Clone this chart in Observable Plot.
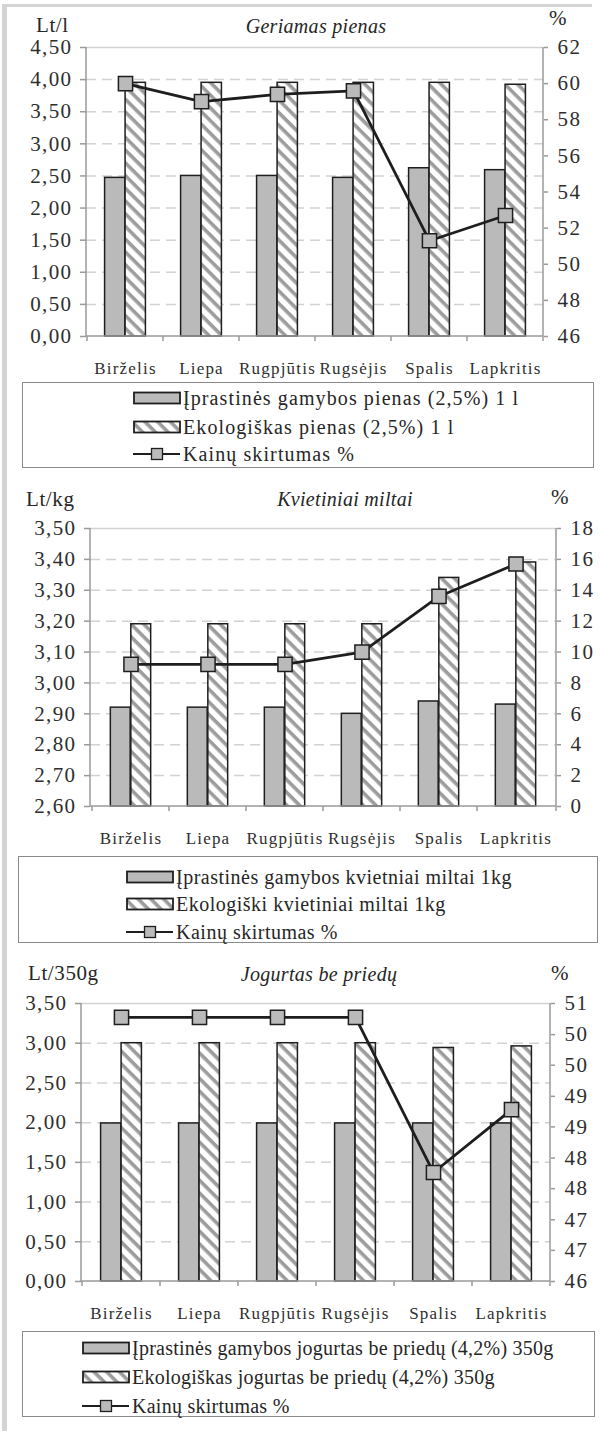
<!DOCTYPE html>
<html><head><meta charset="utf-8">
<script src="https://cdn.jsdelivr.net/npm/d3@7"></script>
<script src="https://cdn.jsdelivr.net/npm/@observablehq/plot@0.6"></script>
<style>
html,body{margin:0;padding:0;background:#fff;}
body{width:601px;height:1431px;position:relative;overflow:hidden;font-family:"Liberation Serif","DejaVu Serif",serif;color:#262626;}
.abs{position:absolute;white-space:nowrap;line-height:24px;height:24px;}
.frameL{position:absolute;left:2px;top:4px;width:5px;height:1427px;background:#d4d4d4;}
.frameT{position:absolute;left:2px;top:4px;width:590px;height:3px;background:#d4d4d4;}
.unit{font-size:21px;letter-spacing:0.6px;}
.title{font-size:20px;font-style:italic;letter-spacing:0.3px;transform:translateX(-50%);}
.legend{position:absolute;border:1.5px solid #8a8a8a;box-sizing:border-box;background:#fff;}
.lrow{position:absolute;display:flex;align-items:center;height:28px;font-size:20px;white-space:nowrap;}
.lrow svg{flex:none;margin-right:2px;}
.panel{position:absolute;left:0;}
.panel svg text{font-family:"Liberation Serif","DejaVu Serif",serif;}
.panel g[aria-label="y-axis tick label"] text{letter-spacing:1.4px;}
.panel g[aria-label="x-axis tick label"] text{letter-spacing:1.2px;}
</style>
</head><body>
<div class="frameL"></div><div class="frameT"></div>
<script>
// ---------- data ----------
const months = ["Birželis","Liepa","Rugpjūtis","Rugsėjis","Spalis","Lapkritis"];

const milkConv = [2.47, 2.50, 2.50, 2.47, 2.62, 2.59];
const milkEco  = [3.95, 3.95, 3.95, 3.95, 3.95, 3.92];
const milkDiff = [60.0, 59.0, 59.4, 59.6, 51.3, 52.7];
const milkLeftTicks  = [0, 0.5, 1, 1.5, 2, 2.5, 3, 3.5, 4, 4.5];
const milkRightTicks = [46, 48, 50, 52, 54, 56, 58, 60, 62];
const milkRightLabels = ["46","48","50","52","54","56","58","60","62"];

const flourConv = [2.92, 2.92, 2.92, 2.90, 2.94, 2.93];
const flourEco  = [3.19, 3.19, 3.19, 3.19, 3.34, 3.39];
const flourDiff = [9.2, 9.2, 9.2, 10.0, 13.6, 15.7];
const flourLeftTicks  = [2.6, 2.7, 2.8, 2.9, 3.0, 3.1, 3.2, 3.3, 3.4, 3.5];
const flourRightTicks = [0, 2, 4, 6, 8, 10, 12, 14, 16, 18];
const flourRightLabels = ["0","2","4","6","8","10","12","14","16","18"];

const yogConv = [1.99, 1.99, 1.99, 1.99, 1.99, 1.99];
const yogEco  = [3.00, 3.00, 3.00, 3.00, 2.94, 2.96];
const yogDiff = [50.75, 50.75, 50.75, 50.75, 47.96, 49.09];
const yogLeftTicks  = [0, 0.5, 1, 1.5, 2, 2.5, 3, 3.5];
const yogRightTicks = [46, 46.56, 47.11, 47.67, 48.22, 48.78, 49.33, 49.89, 50.44, 51];
const yogRightLabels = ["46","47","47","48","48","49","49","50","50","51"];

const panels = [
  {id:"p1", unit:"Lt/l", title:"Geriamas pienas",
   conv:milkConv, eco:milkEco, diff:milkDiff,
   leftTicks:milkLeftTicks, rightTicks:milkRightTicks, rightLabels:milkRightLabels,
   legend:["Įprastinės gamybos pienas (2,5%) 1 l","Ekologiškas pienas (2,5%) 1 l","Kainų skirtumas %"]},
  {id:"p2", unit:"Lt/kg", title:"Kvietiniai miltai",
   conv:flourConv, eco:flourEco, diff:flourDiff,
   leftTicks:flourLeftTicks, rightTicks:flourRightTicks, rightLabels:flourRightLabels,
   legend:["Įprastinės gamybos kvietniai miltai 1kg","Ekologiški kvietiniai miltai 1kg","Kainų skirtumas %"]},
  {id:"p3", unit:"Lt/350g", title:"Jogurtas be priedų",
   conv:yogConv, eco:yogEco, diff:yogDiff,
   leftTicks:yogLeftTicks, rightTicks:yogRightTicks, rightLabels:yogRightLabels,
   legend:["Įprastinės gamybos jogurtas be priedų (4,2%) 350g","Ekologiškas jogurtas be priedų (4,2%) 350g","Kainų skirtumas %"]}
];

// ---------- layout (pixels) ----------
const layout = {
  p1:{svgTop:35, height:345, ml:86, mr:58, mt:12, mb:44,
      unitX:36, unitTop:13, titleX:316, titleTop:14, pctX:549, pctTop:6,
      lg:{left:22, top:382, w:572, h:86, sx:133, ls:1.1, rows:[398,427,454]}},
  p2:{svgTop:516, height:334, ml:90, mr:45, mt:12, mb:44,
      unitX:26, unitTop:487, titleX:345, titleTop:487, pctX:551, pctTop:485,
      lg:{left:18, top:856, w:580, h:87, sx:126, ls:0.5, rows:[877,904,932]}},
  p3:{svgTop:991, height:334, ml:81, mr:51, mt:12, mb:44,
      unitX:28, unitTop:961, titleX:319, titleTop:962, pctX:551, pctTop:961,
      lg:{left:22, top:1331, w:573, h:86, sx:82, ls:0.25, rows:[1348,1377,1406]}}
};

const GRAY = "#bababa", DARK = "#1e1e1e", AXIS = "#9a9a9a", GRID = "#d2d2d2", TEXT = "#2e2e2e";
const fmtComma = d => d3.format(".2f")(d).replace(".", ",");

function hatchDefs(id) {
  return () => {
    const s = d3.create("svg:defs");
    const p = s.append("pattern").attr("id", id).attr("patternUnits", "userSpaceOnUse")
      .attr("width", 9).attr("height", 9).attr("patternTransform", "rotate(45)");
    p.append("rect").attr("width", 9).attr("height", 9).attr("fill", "#fff");
    p.append("rect").attr("width", 9).attr("height", 3.6).attr("fill", "#9c9c9c");
    return s.node();
  };
}

function axisFrame() {
  return (index, scales, values, dims) => {
    const {width, height, marginLeft, marginRight, marginTop, marginBottom} = dims;
    const x0 = marginLeft, x1 = width - marginRight, y0 = marginTop, y1 = height - marginBottom;
    const g = d3.create("svg:g").attr("stroke", AXIS).attr("stroke-width", 1.5).attr("fill", "none");
    g.append("line").attr("x1", x0).attr("x2", x0).attr("y1", y0).attr("y2", y1);
    g.append("line").attr("x1", x1).attr("x2", x1).attr("y1", y0).attr("y2", y1);
    g.append("line").attr("x1", x0).attr("x2", x1).attr("y1", y1).attr("y2", y1);
    const xs = scales.x;
    const bounds = months.map(m => xs(m)).concat([x1]);
    bounds.forEach(bx => g.append("line").attr("x1", bx).attr("x2", bx).attr("y1", y1).attr("y2", y1 + 5));
    return g.node();
  };
}

for (const P of panels) {
  const L = layout[P.id];
  const yDomain = [P.leftTicks[0], P.leftTicks[P.leftTicks.length - 1]];
  const rDomain = [P.rightTicks[0], P.rightTicks[P.rightTicks.length - 1]];
  const pct = d3.scaleLinear().domain(rDomain).range(yDomain);
  const rows = months.map((m, i) => ({m, conv: P.conv[i], eco: P.eco[i], diffY: pct(P.diff[i])}));
  const rightMapped = P.rightTicks.map(pct);
  const labelOf = new Map(rightMapped.map((v, i) => [v, P.rightLabels[i]]));
  const bw = (601 - L.ml - L.mr) / months.length;
  const barW = 20.5;
  const hid = "hatch-" + P.id;

  const plot = Plot.plot({
    width: 601, height: L.height,
    marginLeft: L.ml, marginRight: L.mr, marginTop: L.mt, marginBottom: L.mb,
    x: {type: "band", domain: months, padding: 0},
    y: {domain: yDomain},
    style: {fontFamily: "'Liberation Serif','DejaVu Serif',serif", fontSize: "17px", color: TEXT, background: "transparent", overflow: "visible"},
    marks: [
      hatchDefs(hid),
      Plot.ruleY(P.leftTicks.slice(1, -1), {stroke: GRID, strokeWidth: 1.5, strokeDasharray: "10,6"}),
      Plot.ruleY([yDomain[1]], {stroke: GRID, strokeWidth: 1.5}),
      Plot.barY(rows, {x: "m", y1: yDomain[0], y2: "conv", fill: GRAY, stroke: DARK, strokeWidth: 1.5,
        insetLeft: bw / 2 - barW, insetRight: bw / 2}),
      Plot.barY(rows, {x: "m", y1: yDomain[0], y2: "eco", fill: `url(#${hid})`, stroke: DARK, strokeWidth: 1.5,
        insetLeft: bw / 2, insetRight: bw / 2 - barW}),
      axisFrame(),
      Plot.axisY({anchor: "left", ticks: P.leftTicks, tickFormat: fmtComma, tickSize: 6, tickPadding: 8,
        stroke: AXIS, strokeWidth: 1.5, fill: TEXT, fontSize: 21, label: null}),
      Plot.axisY({anchor: "right", ticks: rightMapped, tickFormat: d => labelOf.get(d), tickSize: 4, tickPadding: 10,
        stroke: AXIS, strokeWidth: 1.5, fill: TEXT, fontSize: 21, label: null}),
      Plot.axisX({tickSize: 0, tickPadding: 25, fill: TEXT, fontSize: 17, label: null}),
      Plot.line(rows, {x: "m", y: "diffY", stroke: DARK, strokeWidth: 2.8}),
      Plot.dot(rows, {x: "m", y: "diffY", symbol: "square", r: 8, fill: GRAY, stroke: DARK, strokeWidth: 1.5})
    ]
  });
  const wrap = document.createElement("div");
  wrap.className = "panel";
  wrap.style.top = L.svgTop + "px";
  wrap.appendChild(plot);
  document.body.appendChild(wrap);

  const mk = (cls, txt, x, top) => {
    const d = document.createElement("div");
    d.className = "abs " + cls; d.textContent = txt;
    d.style.left = x + "px"; d.style.top = top + "px";
    document.body.appendChild(d);
  };
  mk("unit", P.unit, L.unitX, L.unitTop);
  mk("title", P.title, L.titleX, L.titleTop);
  mk("unit", "%", L.pctX, L.pctTop);

  const lg = L.lg;
  const box = document.createElement("div");
  box.className = "legend";
  Object.assign(box.style, {left: lg.left + "px", top: lg.top + "px", width: lg.w + "px", height: lg.h + "px"});
  document.body.appendChild(box);
  const swatches = [
    `<svg width="48" height="14"><rect x="1" y="1.5" width="46" height="11" fill="${GRAY}" stroke="${DARK}" stroke-width="1.8"/></svg>`,
    `<svg width="48" height="14"><defs><pattern id="lg-${hid}" patternUnits="userSpaceOnUse" width="9" height="9" patternTransform="rotate(45)"><rect width="9" height="9" fill="#fff"/><rect width="9" height="3.6" fill="#9c9c9c"/></pattern></defs><rect x="1" y="1.5" width="46" height="11" fill="url(#lg-${hid})" stroke="${DARK}" stroke-width="1.8"/></svg>`,
    `<svg width="48" height="14"><line x1="0" x2="47" y1="7" y2="7" stroke="${DARK}" stroke-width="2"/><rect x="18.5" y="1.5" width="11" height="11" fill="${GRAY}" stroke="${DARK}" stroke-width="1.3"/></svg>`
  ];
  P.legend.forEach((t, i) => {
    const r = document.createElement("div");
    r.className = "lrow";
    r.style.left = lg.sx + "px";
    r.style.top = (lg.rows[i] - 14) + "px";
    r.style.letterSpacing = lg.ls + "px";
    r.innerHTML = swatches[i];
    const s = document.createElement("span");
    s.textContent = t;
    r.appendChild(s);
    document.body.appendChild(r);
  });
}
</script>
</body></html>
